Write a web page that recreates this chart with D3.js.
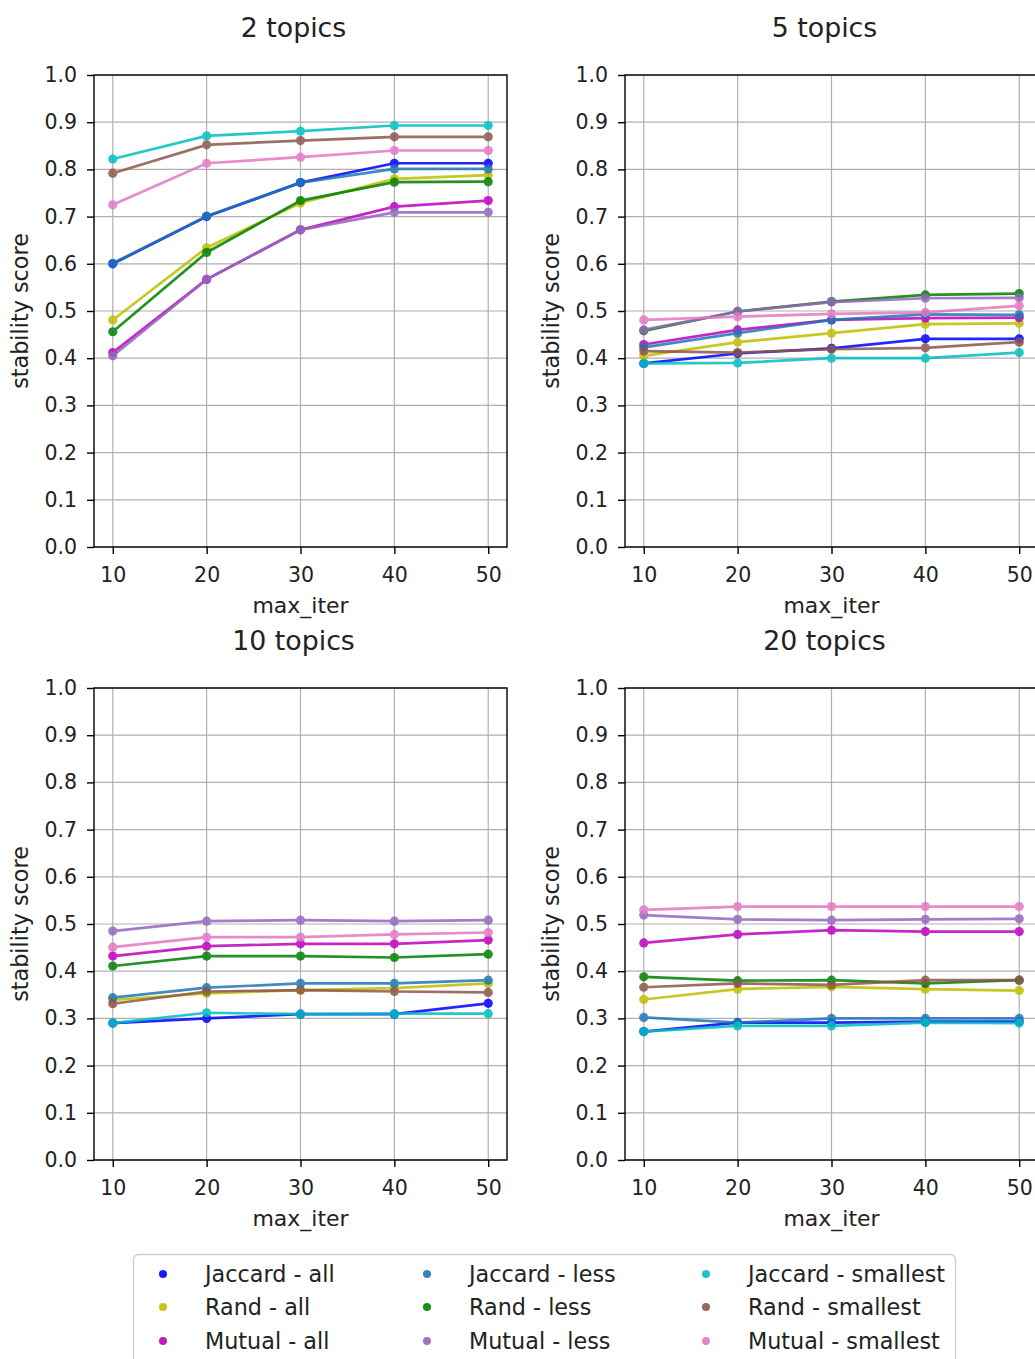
<!DOCTYPE html>
<html><head><meta charset="utf-8">
<script src="https://cdn.jsdelivr.net/npm/d3@7"></script>
<style>
body{margin:0;background:#fff;}
svg{display:block;font-family:"DejaVu Sans",sans-serif;}
</style></head>
<body>
<svg id="chart" width="1035" height="1359"></svg>
<script>
// ---- data ----
const iterations = [10, 20, 30, 40, 50];
const seriesNames = ["Jaccard - all", "Rand - all", "Mutual - all",
  "Jaccard - less", "Rand - less", "Mutual - less",
  "Jaccard - smallest", "Rand - smallest", "Mutual - smallest"];
const seriesColors = ["#0000ff", "#bfbf00", "#bf00bf", "#1f77b4", "#008000", "#9467bd", "#00bfbf", "#8c564b", "#e377c2"];
const panelTitles = ["2 topics", "5 topics", "10 topics", "20 topics"];
const yTicks = [0.0, 0.1, 0.2, 0.3, 0.4, 0.5, 0.6, 0.7, 0.8, 0.9, 1.0];

const topics2 = [
  [0.600, 0.700, 0.772, 0.813, 0.813],
  [0.481, 0.634, 0.729, 0.780, 0.788],
  [0.412, 0.567, 0.672, 0.721, 0.734],
  [0.601, 0.701, 0.772, 0.801, 0.801],
  [0.456, 0.624, 0.734, 0.773, 0.774],
  [0.405, 0.567, 0.672, 0.709, 0.709],
  [0.822, 0.871, 0.881, 0.893, 0.893],
  [0.792, 0.852, 0.861, 0.869, 0.869],
  [0.725, 0.813, 0.826, 0.840, 0.840]
];
const topics5 = [
  [0.389, 0.410, 0.421, 0.441, 0.441],
  [0.405, 0.434, 0.453, 0.472, 0.474],
  [0.429, 0.460, 0.481, 0.485, 0.486],
  [0.423, 0.453, 0.481, 0.493, 0.492],
  [0.458, 0.499, 0.520, 0.534, 0.537],
  [0.460, 0.499, 0.519, 0.527, 0.528],
  [0.389, 0.390, 0.400, 0.400, 0.412],
  [0.415, 0.412, 0.419, 0.422, 0.434],
  [0.481, 0.488, 0.494, 0.497, 0.511]
];
const topics10 = [
  [0.290, 0.300, 0.309, 0.309, 0.332],
  [0.339, 0.353, 0.360, 0.364, 0.374],
  [0.432, 0.453, 0.458, 0.458, 0.466],
  [0.344, 0.365, 0.374, 0.374, 0.381],
  [0.411, 0.432, 0.432, 0.429, 0.436],
  [0.485, 0.506, 0.508, 0.506, 0.508],
  [0.290, 0.312, 0.309, 0.310, 0.310],
  [0.331, 0.357, 0.360, 0.357, 0.355],
  [0.451, 0.472, 0.472, 0.478, 0.482]
];
const topics20 = [
  [0.272, 0.291, 0.291, 0.293, 0.293],
  [0.340, 0.362, 0.367, 0.362, 0.359],
  [0.460, 0.478, 0.487, 0.484, 0.484],
  [0.302, 0.291, 0.300, 0.300, 0.300],
  [0.388, 0.380, 0.381, 0.374, 0.381],
  [0.519, 0.510, 0.508, 0.510, 0.511],
  [0.272, 0.284, 0.284, 0.291, 0.290],
  [0.366, 0.374, 0.371, 0.381, 0.381],
  [0.530, 0.537, 0.537, 0.537, 0.537]
];
const panelData = [topics2, topics5, topics10, topics20];

// ---- layout ----
const svg = d3.select("#chart");
const W = 413, H = 472;
const origins = [[94, 75], [625, 75], [94, 688], [625, 688]];

panelData.forEach((data, p) => {
  const [ox, oy] = origins[p];
  const g = svg.append("g").attr("transform", `translate(${ox},${oy})`);
  const x = d3.scaleLinear().domain([8, 52]).range([0, W]);
  const y = d3.scaleLinear().domain([0, 1]).range([H, 0]);

  // grid
  g.append("g").selectAll("line").data(iterations).join("line")
    .attr("x1", d => x(d)).attr("x2", d => x(d)).attr("y1", 0).attr("y2", H)
    .attr("stroke", "#b0b0b0").attr("stroke-width", 1.2);
  g.append("g").selectAll("line").data(yTicks).join("line")
    .attr("x1", 0).attr("x2", W).attr("y1", d => y(d)).attr("y2", d => y(d))
    .attr("stroke", "#b0b0b0").attr("stroke-width", 1.2);

  // series
  const line = d3.line().x((d, i) => x(iterations[i])).y(d => y(d));
  data.forEach((vals, s) => {
    const sg = g.append("g").attr("opacity", 0.85);
    sg.append("path").datum(vals).attr("d", line)
      .attr("fill", "none").attr("stroke", seriesColors[s]).attr("stroke-width", 2.7);
    sg.selectAll("circle").data(vals).join("circle")
      .attr("cx", (d, i) => x(iterations[i])).attr("cy", d => y(d)).attr("r", 4.6)
      .attr("fill", seriesColors[s]);
  });

  // frame
  g.append("rect").attr("x", 0).attr("y", 0).attr("width", W).attr("height", H)
    .attr("fill", "none").attr("stroke", "#000").attr("stroke-width", 1.4);

  // axes
  const xAxis = d3.axisBottom(x).tickValues(iterations).tickSize(7).tickPadding(13).tickFormat(d3.format("d"));
  const yAxis = d3.axisLeft(y).tickValues(yTicks).tickSize(7).tickPadding(10).tickFormat(d3.format(".1f"));
  const gx = g.append("g").attr("transform", `translate(0,${H})`).call(xAxis);
  const gy = g.append("g").call(yAxis);
  [gx, gy].forEach(a => {
    a.select(".domain").remove();
    a.selectAll(".tick line").attr("stroke", "#000").attr("stroke-width", 1.4);
    a.selectAll(".tick text").attr("fill", "#222").style("font-size", "20.5px")
      .style("font-family", "DejaVu Sans, sans-serif");
  });

  // labels
  g.append("text").attr("x", W / 2).attr("y", H + 66).attr("text-anchor", "middle")
    .style("font-size", "22px").attr("fill", "#222").text("max_iter");
  g.append("text").attr("transform", `translate(${-66},${H / 2}) rotate(-90)`)
    .attr("text-anchor", "middle").style("font-size", "22.3px").attr("fill", "#222")
    .text("stability score");
  g.append("text").attr("x", W / 2 - 7).attr("y", -38).attr("text-anchor", "middle")
    .style("font-size", "26.8px").attr("fill", "#222").text(panelTitles[p]);
});

// ---- legend ----
const lg = svg.append("g");
lg.append("rect").attr("x", 133.5).attr("y", 1254.5).attr("width", 822).attr("height", 130)
  .attr("rx", 5).attr("fill", "#fff").attr("stroke", "#d0d0d0").attr("stroke-width", 1.3);
const colX = [163, 427, 706];
const rowY = [1274, 1307, 1341];
seriesNames.forEach((name, i) => {
  const c = Math.floor(i / 3), r = i % 3;
  lg.append("circle").attr("cx", colX[c]).attr("cy", rowY[r]).attr("r", 4)
    .attr("fill", seriesColors[i]).attr("opacity", 0.9);
  lg.append("text").attr("x", colX[c] + 42).attr("y", rowY[r]).attr("dy", "0.35em")
    .style("font-size", "22.3px").attr("fill", "#222").text(name);
});
</script>
</body></html>
